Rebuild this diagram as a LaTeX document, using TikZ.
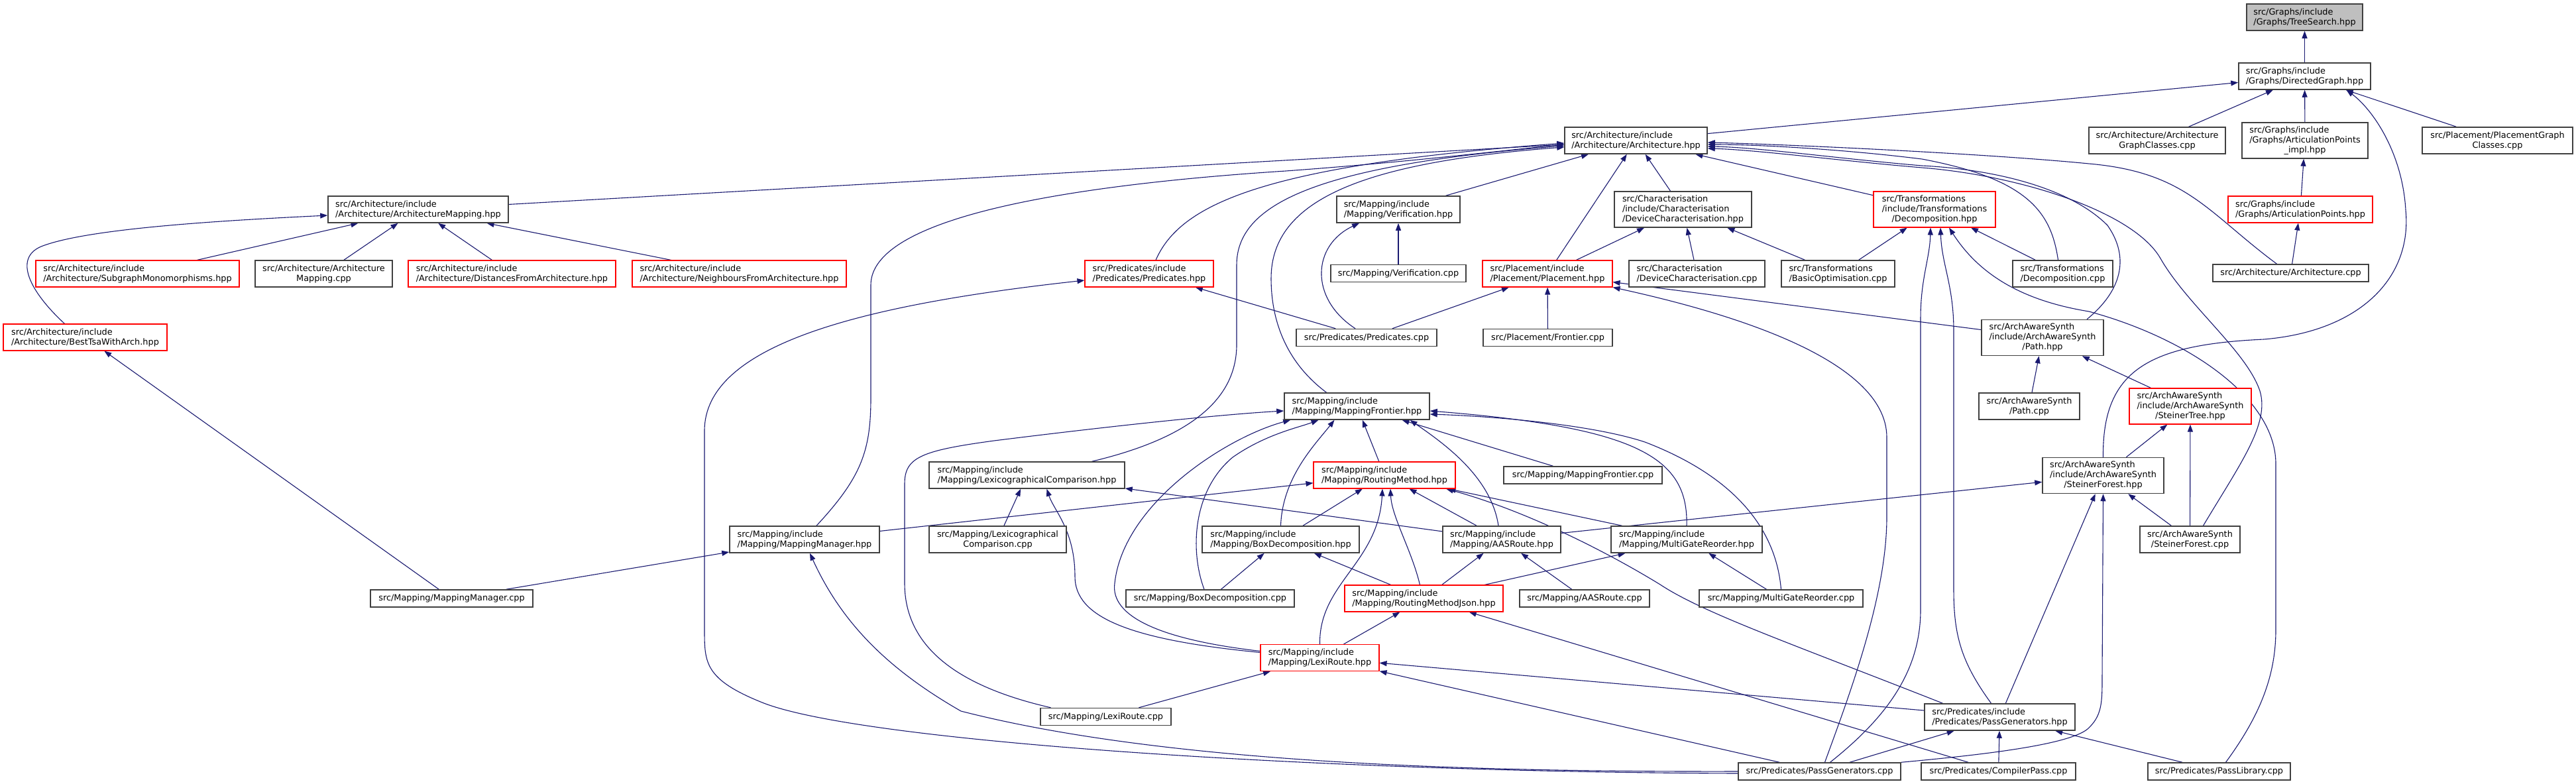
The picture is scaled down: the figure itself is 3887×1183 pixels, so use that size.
\documentclass[tikz,border=0pt]{standalone}
\usepackage{fontspec}
\setmainfont{DejaVu Sans}
\usepackage{xcolor}
\usepackage{tikz}
\usetikzlibrary{arrows.meta, backgrounds}
\definecolor{edgeblue}{HTML}{191970}
\definecolor{framegray}{HTML}{404040}
\definecolor{basegray}{HTML}{BFBFBF}
\newcommand{\filefont}{\fontsize{12.85}{15}\selectfont}
\newcommand{\lrc}[3]{\begin{tabular}{@{}l@{}}#1\\#2\\\multicolumn{1}{@{}c@{}}{#3}\end{tabular}}
\tikzset{
    file/.style={rectangle, draw=framegray, line width=1.5pt, fill=white, inner sep=0pt, align=left, minimum height=40pt, font=\filefont},
    redfile/.style={file, draw=red, line width=1.1pt},
    basefile/.style={file, fill=basegray},
    oneline/.style={minimum height=26pt},
    threeline/.style={minimum height=54pt},
    centred/.style={align=center},
    incl/.style={draw=edgeblue, line width=1.1pt, -{Triangle[length=11pt, width=8pt]}},
}

\begin{document}
\begin{tikzpicture}[x=1pt, y=-1pt]
    \useasboundingbox (0,0) rectangle (3887,1183);

    % Graphs
    \node[basefile, minimum width=175pt] (tree) at (3477.5,26) {src/Graphs/include\\/Graphs/TreeSearch.hpp};
    \node[file, minimum width=199pt] (dgraph) at (3477.5,115) {src/Graphs/include\\/Graphs/DirectedGraph.hpp};
    \node[file, centred, minimum width=206pt] (agc) at (3255,212) {src/Architecture/Architecture\\GraphClasses.cpp};
    \node[file, threeline, minimum width=190pt] (apimpl) at (3478,212) {\lrc{src/Graphs/include}{/Graphs/ArticulationPoints}{\_impl.hpp}};
    \node[file, centred, minimum width=227pt] (pgc) at (3768.5,212) {src/Placement/PlacementGraph\\Classes.cpp};
    \node[redfile, minimum width=218pt] (ap) at (3471,316) {src/Graphs/include\\/Graphs/ArticulationPoints.hpp};
    \node[file, oneline, minimum width=235pt] (archcpp) at (3456.5,412) {src/Architecture/Architecture.cpp};

    % Architecture
    \node[file, minimum width=215pt] (arch) at (2468.5,212) {src/Architecture/include\\/Architecture/Architecture.hpp};
    \node[file, minimum width=272pt] (archmap) at (631,316) {src/Architecture/include\\/Architecture/ArchitectureMapping.hpp};
    \node[redfile, minimum width=307pt] (submono) at (207.5,413) {src/Architecture/include\\/Architecture/SubgraphMonomorphisms.hpp};
    \node[file, centred, minimum width=207pt] (archmapcpp) at (488.5,413) {src/Architecture/Architecture\\Mapping.cpp};
    \node[redfile, minimum width=313pt] (dist) at (772.5,413) {src/Architecture/include\\/Architecture/DistancesFromArchitecture.hpp};
    \node[redfile, minimum width=323pt] (neigh) at (1115.5,413) {src/Architecture/include\\/Architecture/NeighboursFromArchitecture.hpp};
    \node[redfile, minimum width=247pt] (besttsa) at (128.5,509) {src/Architecture/include\\/Architecture/BestTsaWithArch.hpp};

    % Characterisation, Placement, Transformations
    \node[file, minimum width=186pt] (verif) at (2110,316) {src/Mapping/include\\/Mapping/Verification.hpp};
    \node[file, threeline, minimum width=207pt] (devh) at (2539.5,316) {src/Characterisation\\/include/Characterisation\\/DeviceCharacterisation.hpp};
    \node[redfile, threeline, minimum width=184pt] (decomph) at (2919,316) {\lrc{src/Transformations}{/include/Transformations}{/Decomposition.hpp}};
    \node[redfile, minimum width=194pt] (predh) at (1734,413) {src/Predicates/include\\/Predicates/Predicates.hpp};
    \node[file, oneline, minimum width=204pt] (verifcpp) at (2110,412.5) {src/Mapping/Verification.cpp};
    \node[redfile, minimum width=196pt] (placeh) at (2335,413) {src/Placement/include\\/Placement/Placement.hpp};
    \node[file, minimum width=205pt] (devcpp) at (2560.5,413) {src/Characterisation\\/DeviceCharacterisation.cpp};
    \node[file, minimum width=171pt] (basicopt) at (2773.5,413) {src/Transformations\\/BasicOptimisation.cpp};
    \node[file, minimum width=151pt] (decompcpp) at (3112.5,413) {src/Transformations\\/Decomposition.cpp};
    \node[file, oneline, minimum width=212pt] (predcpp) at (2062,509.5) {src/Predicates/Predicates.cpp};
    \node[file, oneline, minimum width=195pt] (frontcpp) at (2335.5,509.5) {src/Placement/Frontier.cpp};

    % ArchAwareSynth
    \node[file, threeline, minimum width=184pt] (pathh) at (3082,509.5) {\lrc{src/ArchAwareSynth}{/include/ArchAwareSynth}{/Path.hpp}};
    \node[file, centred, minimum width=152pt] (pathcpp) at (3062,613) {src/ArchAwareSynth\\/Path.cpp};
    \node[redfile, threeline, minimum width=184pt] (steintree) at (3305,613) {\lrc{src/ArchAwareSynth}{/include/ArchAwareSynth}{/SteinerTree.hpp}};
    \node[file, threeline, minimum width=183pt] (steinforh) at (3173.5,717.5) {\lrc{src/ArchAwareSynth}{/include/ArchAwareSynth}{/SteinerForest.hpp}};
    \node[file, centred, minimum width=151pt] (steinforcpp) at (3304.5,814) {src/ArchAwareSynth\\/SteinerForest.cpp};

    % Mapping
    \node[file, minimum width=219pt] (mfh) at (2047.5,613) {src/Mapping/include\\/Mapping/MappingFrontier.hpp};
    \node[redfile, minimum width=214pt] (rmh) at (2089,717) {src/Mapping/include\\/Mapping/RoutingMethod.hpp};
    \node[file, oneline, minimum width=239pt] (mfcpp) at (2388.5,717) {src/Mapping/MappingFrontier.cpp};
    \node[file, minimum width=295pt] (lexcomph) at (1549.5,717) {src/Mapping/include\\/Mapping/LexicographicalComparison.hpp};
    \node[file, minimum width=226pt] (mmh) at (1214,814) {src/Mapping/include\\/Mapping/MappingManager.hpp};
    \node[file, centred, minimum width=207pt] (lexcompcpp) at (1505.5,814) {src/Mapping/Lexicographical\\Comparison.cpp};
    \node[file, minimum width=237pt] (boxh) at (1932.5,814) {src/Mapping/include\\/Mapping/BoxDecomposition.hpp};
    \node[file, minimum width=178pt] (aash) at (2266,814) {src/Mapping/include\\/Mapping/AASRoute.hpp};
    \node[file, minimum width=228pt] (mgrh) at (2545,814) {src/Mapping/include\\/Mapping/MultiGateReorder.hpp};
    \node[file, oneline, minimum width=245pt] (mmcpp) at (681.5,903) {src/Mapping/MappingManager.cpp};
    \node[file, oneline, minimum width=254pt] (boxcpp) at (1826,903) {src/Mapping/BoxDecomposition.cpp};
    \node[redfile, minimum width=239pt] (rmjson) at (2148.5,903) {src/Mapping/include\\/Mapping/RoutingMethodJson.hpp};
    \node[file, oneline, minimum width=196pt] (aascpp) at (2391,903) {src/Mapping/AASRoute.cpp};
    \node[file, oneline, minimum width=247pt] (mgrcpp) at (2687.5,903) {src/Mapping/MultiGateReorder.cpp};
    \node[redfile, minimum width=179pt] (lexirh) at (1991.5,992.5) {src/Mapping/include\\/Mapping/LexiRoute.hpp};
    \node[file, oneline, minimum width=197pt] (lexircpp) at (1668.5,1081.5) {src/Mapping/LexiRoute.cpp};

    % Predicates
    \node[file, minimum width=227pt] (pgh) at (3017.5,1082) {src/Predicates/include\\/Predicates/PassGenerators.hpp};
    \node[file, oneline, minimum width=245pt] (pgcpp) at (2745.5,1164) {src/Predicates/PassGenerators.cpp};
    \node[file, oneline, minimum width=233pt] (cpcpp) at (3015.5,1164) {src/Predicates/CompilerPass.cpp};
    \node[file, oneline, minimum width=215pt] (plcpp) at (3348.5,1164) {src/Predicates/PassLibrary.cpp};

    \begin{scope}[on background layer]
    % Graphs
    \draw[incl] (dgraph) -- (tree);
    \draw[incl] (arch) -- (dgraph);
    \draw[incl] (agc) -- (dgraph);
    \draw[incl] (apimpl) -- (dgraph);
    \draw[incl] (pgc) -- (dgraph);
    \draw[incl] (steinforh.north) .. controls (3172,560) and (3240,520) .. (3416,512) .. controls (3560,500) and (3640,420) .. (3630,317) .. controls (3625,230) and (3580,165) .. ([xshift=63pt]dgraph.south);
    \draw[incl] (ap) -- (apimpl);
    \draw[incl] (archcpp) -- (ap);

    % Architecture
    \draw[incl] (archmap) -- (arch);
    \draw[incl] (verif) -- (arch);
    \draw[incl] (placeh) -- (arch);
    \draw[incl] (devh) -- (arch);
    \draw[incl] (decomph) -- (arch);
    \draw[incl] ([xshift=18pt]mmh.north) .. controls (1300,720) and (1314,680) .. (1314,600) -- (1314,430) .. controls (1314,330) and (1600,280) .. (1940,258) .. controls (2120,245) and (2260,228) .. ([yshift=-6pt]arch.west);
    \draw[incl] ([xshift=10pt]predh.north) .. controls (1780,310) and (1900,250) .. ([yshift=-4pt]arch.west);
    \draw[incl] ([xshift=98pt]lexcomph.north) .. controls (1800,660) and (1866,600) .. (1866,520) -- (1866,400) .. controls (1866,310) and (1980,250) .. ([yshift=-8pt]arch.west);
    \draw[incl] ([xshift=-46pt]mfh.north) .. controls (1945,550) and (1918,490) .. (1918,420) .. controls (1918,300) and (2060,245) .. ([yshift=-10pt]arch.west);
    \draw[incl] ([xshift=-21pt]archcpp.north) .. controls (3330,320) and (3300,260) .. (3152,247) .. controls (3000,232) and (2700,218) .. ([yshift=-3pt]arch.east);
    \draw[incl] ([xshift=-7pt]decompcpp.north) .. controls (3095,320) and (3060,270) .. (2900,240) .. controls (2780,225) and (2650,218) .. ([yshift=-6pt]arch.east);
    \draw[incl] ([xshift=67pt]pathh.north) .. controls (3200,440) and (3215,390) .. (3180,340) .. controls (3120,280) and (3000,255) .. (2900,250) .. controls (2780,240) and (2650,222) .. ([yshift=-9pt]arch.east);
    \draw[incl] ([xshift=20pt]steinforcpp.north) .. controls (3380,700) and (3425,640) .. (3410,590) .. controls (3390,530) and (3300,460) .. (3260,390) .. controls (3220,320) and (3050,265) .. (2900,253) .. controls (2780,243) and (2650,226) .. ([yshift=-12pt]arch.east);

    % Architecture mapping
    \draw[incl] (submono) -- (archmap);
    \draw[incl] (archmapcpp) -- (archmap);
    \draw[incl] (dist) -- (archmap);
    \draw[incl] (neigh) -- (archmap);
    \draw[incl] ([xshift=-31pt]besttsa.north) .. controls (45,440) and (20,390) .. (62,372) .. controls (130,345) and (330,333) .. ([yshift=-9pt]archmap.west);
    \draw[incl] (mmcpp) -- (besttsa);
    \draw[incl] (mmcpp) -- (mmh);

    % Verification, Placement, Characterisation, Transformations
    \draw[incl] (verifcpp) -- (verif);
    \draw[incl] ([xshift=-17pt]predcpp.north) .. controls (1975,450) and (1980,370) .. ([xshift=-59pt]verif.south);
    \draw[incl] (predcpp) -- (placeh);
    \draw[incl] (predcpp) -- (predh);
    \draw[incl] (frontcpp) -- (placeh);
    \draw[incl] (placeh) -- (devh);
    \draw[incl] (devcpp) -- (devh);
    \draw[incl] (basicopt) -- (devh);
    \draw[incl] (basicopt) -- (decomph);
    \draw[incl] (decompcpp) -- (decomph);
    \draw[incl] (pathh) -- (placeh);

    % ArchAwareSynth
    \draw[incl] (pathcpp) -- (pathh);
    \draw[incl] (steintree) -- (pathh);
    \draw[incl] (steinforh) -- (steintree);
    \draw[incl] (steinforcpp) -- (steintree);
    \draw[incl] (steinforcpp) -- (steinforh);
    \draw[incl] (aash) -- (steinforh);
    \draw[incl] (pgh) -- (steinforh);

    % Mapping frontier and routing
    \draw[incl] (mmh) -- (rmh);
    \draw[incl] (rmh) -- (mfh);
    \draw[incl] (mfcpp) -- (mfh);
    \draw[incl] (lexcompcpp) -- (lexcomph);
    \draw[incl] ([xshift=-83pt]lexircpp.north) .. controls (1420,1030) and (1365,960) .. (1365,880) -- (1365,730) .. controls (1365,690) and (1390,680) .. (1500,665) .. controls (1700,640) and (1850,625) .. ([yshift=-7pt]mfh.west);
    \draw[incl] (lexircpp) -- (lexirh);
    \draw[incl] ([yshift=10pt]lexirh.west) .. controls (1750,965) and (1675,930) .. (1682,880) .. controls (1695,760) and (1850,660) .. ([xshift=10pt]mfh.south west);
    \draw[incl] ([yshift=8pt]lexirh.west) .. controls (1700,965) and (1622,930) .. (1622,870) .. controls (1622,800) and (1590,770) .. ([xshift=30pt]lexcomph.south);
    \draw[incl] (lexirh.north) .. controls (1990,880) and (2080,850) .. ([xshift=-3pt]rmh.south);
    \draw[incl] (lexirh) -- (rmjson);
    \draw[incl] (boxh.north) .. controls (1935,720) and (1985,670) .. ([xshift=-34pt]mfh.south);
    \draw[incl] ([xshift=-9pt]boxcpp.north) .. controls (1795,830) and (1800,740) .. (1860,690) .. controls (1910,655) and (1960,645) .. ([xshift=-58pt]mfh.south);
    \draw[incl] (boxcpp) -- (boxh);
    \draw[incl] (boxh) -- (rmh);
    \draw[incl] ([xshift=-5pt]aash.north) .. controls (2250,720) and (2180,670) .. ([xshift=80pt]mfh.south);
    \draw[incl] (mgrh.north) .. controls (2548,690) and (2470,645) .. ([yshift=-7pt]mfh.east);
    \draw[incl] (mgrcpp.north) .. controls (2680,800) and (2620,720) .. (2482,667) .. controls (2400,640) and (2250,628) .. ([yshift=-12pt]mfh.east);
    \draw[incl] (aash) -- (lexcomph);
    \draw[incl] (aash) -- (rmh);
    \draw[incl] ([xshift=-6pt]rmjson.north) .. controls (2130,830) and (2100,780) .. ([xshift=9pt]rmh.south);
    \draw[incl] (rmjson) -- (aash);
    \draw[incl] (rmjson) -- (mgrh);
    \draw[incl] (rmjson) -- (boxh);
    \draw[incl] (aascpp) -- (aash);
    \draw[incl] (mgrcpp) -- (mgrh);
    \draw[incl] (mgrh) -- (rmh);

    % Predicates
    \draw[incl] ([xshift=-86pt]pgh.north) .. controls (2700,970) and (2570,925) .. (2505,882) .. controls (2420,830) and (2300,770) .. ([xshift=93pt]rmh.south);
    \draw[incl] (pgh) -- (lexirh);
    \draw[incl] ([xshift=-13pt]pgh.north) .. controls (2960,1000) and (2948,960) .. (2948,890) -- (2948,500) .. controls (2948,430) and (2930,400) .. ([xshift=9pt]decomph.south);
    \draw[incl] (pgcpp) -- (lexirh);
    \draw[incl] (pgcpp) -- (pgh);
    \draw[incl] (pgcpp.west) .. controls (2200,1165) and (1750,1150) .. (1450,1073) .. controls (1340,1010) and (1270,940) .. ([xshift=8pt]mmh.south);
    \draw[incl] ([yshift=-3pt]pgcpp.west) .. controls (2000,1165) and (1300,1120) .. (1150,1060) .. controls (1063,1025) and (1063,1000) .. (1063,950) -- (1063,650) .. controls (1063,520) and (1300,460) .. ([yshift=-10pt]predh.west);
    \draw[incl] ([xshift=8pt]pgcpp.north) .. controls (2790,1050) and (2847,900) .. (2847,780) -- (2847,660) .. controls (2847,540) and (2600,470) .. (placeh.south east);
    \draw[incl] ([xshift=16pt]pgcpp.north) .. controls (2850,1080) and (2898,1010) .. (2898,920) -- (2898,480) .. controls (2898,420) and (2912,390) .. ([xshift=-6pt]decomph.south);
    \draw[incl] (pgcpp.north east) .. controls (2980,1140) and (3120,1125) .. (3150,1100) .. controls (3172,1080) and (3172,1060) .. (3172,1020) -- (steinforh.south);
    \draw[incl] (cpcpp) -- (pgh);
    \draw[incl] (cpcpp) -- (rmjson);
    \draw[incl] (plcpp) -- (pgh);
    \draw[incl] ([xshift=10pt]plcpp.north) .. controls (3410,1080) and (3434,1020) .. (3434,950) -- (3434,700) .. controls (3434,600) and (3300,510) .. (3152,470) .. controls (3060,455) and (2990,420) .. ([xshift=22pt]decomph.south);
    \end{scope}
\end{tikzpicture}
\end{document}
